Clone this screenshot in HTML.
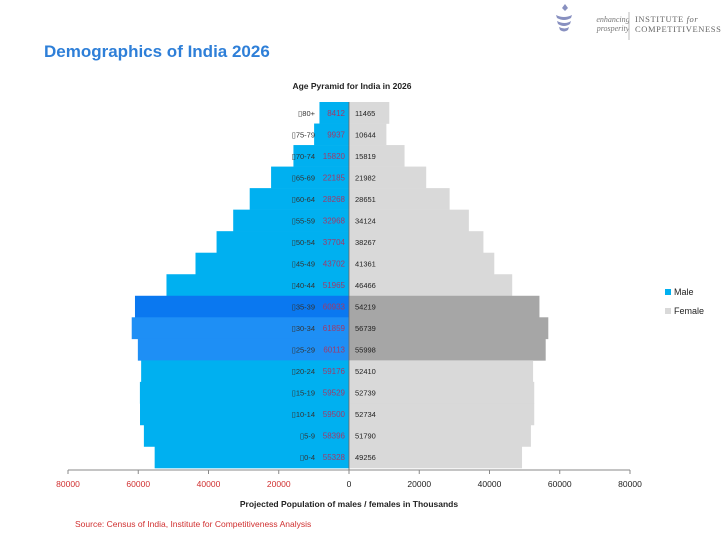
<!DOCTYPE html>
<html><head><meta charset="utf-8"><style>
body{margin:0;background:#fff;width:728px;height:546px;overflow:hidden;font-family:"Liberation Sans","DejaVu Sans",sans-serif}
</style></head><body>
<svg width="728" height="546" xmlns="http://www.w3.org/2000/svg">
<g>
<g fill="#8890c0"><path d="M556 15 q8 4 16 0 l-1 3 q-7 4 -14 0z"/><path d="M557 21 q8 4 14 0 l-1 3 q-6 4 -12 0z"/><path d="M559 27 q6 3 10 0 l-1 3 q-4 3 -8 0z"/><path d="M562 8 l3 -4 l3 4 l-3 3z"/></g>
<text x="613" y="22" font-family="Liberation Serif" font-style="italic" font-size="8" fill="#777" text-anchor="middle">enhancing</text>
<text x="613" y="31" font-family="Liberation Serif" font-style="italic" font-size="8" fill="#777" text-anchor="middle">prosperity</text>
<line x1="629" y1="12" x2="629" y2="40" stroke="#bbb"/>
<text x="635" y="22" font-family="Liberation Serif" font-size="8.5" fill="#666" letter-spacing="0.6">INSTITUTE <tspan font-style="italic">for</tspan></text>
<text x="635" y="32" font-family="Liberation Serif" font-size="8.5" fill="#666" letter-spacing="0.6">COMPETITIVENESS</text>
</g>
<text x="44" y="57" font-size="17" font-weight="bold" fill="#2e7fd8">Demographics of India 2026</text>
<text x="352" y="89" font-size="8.5" font-weight="bold" fill="#222" text-anchor="middle">Age Pyramid for India in 2026</text>
<g id="bars"></g>
<g id="axis"></g>
<text x="349" y="507" font-size="8.5" font-weight="bold" fill="#222" text-anchor="middle">Projected Population of males / females in Thousands</text>
<text x="75" y="527" font-size="8.5" fill="#d03030">Source: Census of India,  Institute for Competitiveness Analysis</text>
<g>
<rect x="665" y="289" width="6" height="6" fill="#00b0f0"/>
<text x="674" y="295" font-size="9" fill="#222">Male</text>
<rect x="665" y="308" width="6" height="6" fill="#d9d9d9"/>
<text x="674" y="314" font-size="9" fill="#222">Female</text>
</g>
</svg>
<script>
const ages=["80+","75-79","70-74","65-69","60-64","55-59","50-54","45-49","40-44","35-39","30-34","25-29","20-24","15-19","10-14","5-9","0-4"];
const males=[8412,9937,15820,22185,28268,32968,37704,43702,51965,60933,61859,60113,59176,59529,59500,58396,55328];
const females=[11465,10644,15819,21982,28651,34124,38267,41361,46466,54219,56739,55998,52410,52739,52734,51790,49256];
const ticks=[-80000,-60000,-40000,-20000,0,20000,40000,60000,80000];
const NS="http://www.w3.org/2000/svg";
const x0=349,k=281/80000;
const xs=v=>x0+v*k;
const rowTop=102,rowH=(468-102)/17;
const ys=i=>rowTop+i*rowH;
function mk(t,a,p){const e=document.createElementNS(NS,t);for(const n in a)e.setAttribute(n,a[n]);p.appendChild(e);return e;}
const g=document.getElementById('bars');
ages.forEach((a,i)=>{
  const y=ys(i),hl=(i>=9&&i<=11);
  const mc=i==9?"#0a78f0":hl?"#1e8ff5":"#00b0f0";
  const fc=hl?"#a6a6a6":"#d9d9d9";
  const m=mk('rect',{x:xs(-males[i]),y:y,width:xs(0)-xs(-males[i]),height:rowH+0.3,fill:mc},g);
  
  
  const f=mk('rect',{x:x0,y:y,width:xs(females[i])-x0,height:rowH+0.3,fill:fc},g);
  
  
  const cy=y+rowH/2+3;
  const t=mk('text',{x:315,y:cy,'font-size':7.5,fill:'#333','text-anchor':'end'},g);t.textContent='\u25AF'+a;
  
  
  const mv=mk('text',{x:345,y:cy,'font-size':8,fill:'#a03a6a','text-anchor':'end'},g);mv.textContent=males[i];
  
  
  const fv=mk('text',{x:355,y:cy,'font-size':7.5,fill:'#222'},g);fv.textContent=females[i];
  
  
});
const ax=document.getElementById('axis');
const l=mk('line',{x1:xs(-80000),x2:xs(80000),y1:470,y2:470,stroke:'#888'},ax);


mk('line',{x1:x0,x2:x0,y1:rowTop,y2:470,stroke:'#666','stroke-width':0.8},ax);
ticks.forEach(v=>{
  mk('line',{x1:xs(v),x2:xs(v),y1:470,y2:474,stroke:'#888'},ax);
  const t=mk('text',{x:xs(v),y:487,'font-size':8.5,fill:v<0?'#d03030':'#222','text-anchor':'middle'},ax);
  t.textContent=Math.abs(v);
  
  
});
</script>
</body></html>
